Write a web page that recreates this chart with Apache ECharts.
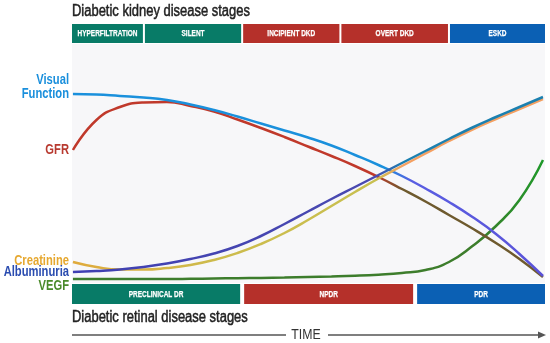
<!DOCTYPE html>
<html><head><meta charset="utf-8">
<script src="https://cdn.jsdelivr.net/npm/echarts@6/dist/echarts.min.js"></script>
<style>html,body{margin:0;padding:0;background:#fff}#c{width:550px;height:343px}</style>
</head><body><div id="c"></div>
<script>
// Time axis positions (0 = start, 100 = end)
const timePoints = [0,5,10,15,20,25,30,35,40,45,50,55,60,65,70,75,80,85,90,95,100];
// Relative levels (arbitrary units)
const visualFunction = [189,188.5,187,185.5,183,178.5,173,166.5,159.5,152.5,145.5,137.5,128,118,107,94.5,81,66,49,29,7];
const gfr            = [133,163,176,180.5,181,177,171.5,163.5,155,146,136.5,127,117,106,94,81.5,68,54.5,40,24,6];
const albuminuria    = [11,12,13.5,16,19.5,24,29.5,37,47,59,71.5,84,96,108,120,132,144,155.5,166,176,186];
const creatinine     = [21,16,13.5,13.5,15,18,23,30,39,50,63,77,91,104.5,117,129.5,142,153.5,164,174,184];
const vegf           = [4,4,4,4,4,4.2,4.5,4.8,5.1,5.5,6,6.5,7.2,8.3,10,13,21,37,57,83,123];

// Disease stages: [start, end]
const kidneyStages = ['HYPERFILTRATION','SILENT','INCIPIENT DKD','OVERT DKD','ESKD'];
const kidneySpans  = [[-0.2,15.1],[15.1,36.0],[36.0,56.9],[56.9,80.0],[80.0,100.43]];
const retinaStages = ['PRECLINICAL DR','NPDR','PDR'];
const retinaSpans  = [[-0.2,36.0],[36.0,72.8],[72.8,100.43]];

const TEAL='#087b67', RED='#b5302a', BLUE='#0b60b4';
const kidneyColors = [TEAL,TEAL,RED,RED,BLUE];
const retinaColors = [TEAL,RED,BLUE];
const FF = "'Liberation Sans',Arial,sans-serif";
const SX = 0.8;

const chart = echarts.init(document.getElementById('c'));
const pairs = arr => timePoints.map((x,i)=>[x,arr[i]]);
const grad = stops => new echarts.graphic.LinearGradient(0,0,1,0,stops.map(s=>({offset:s[0],color:s[1]})));

function bandSeries(names, spans, colors, gridIdx, gap){
  return {
    type:'custom', xAxisIndex:gridIdx, yAxisIndex:gridIdx, silent:true,
    data: spans.map((s,i)=>[s[0],s[1],i]),
    renderItem(params, api){
      const i = api.value(2), n = spans.length;
      const p0 = api.coord([api.value(0),0]);
      const p1 = api.coord([api.value(1),1]);
      const l = p0[0] + (i>0?gap/2:0);
      const r = p1[0] - (i<n-1?gap/2:0);
      return {type:'group', children:[
        {type:'rect', shape:{x:l,y:p1[1],width:r-l,height:p0[1]-p1[1]}, style:{fill:colors[i]}},
        {type:'text', x:(l+r)/2, y:(p0[1]+p1[1])/2+0.5, scaleX:0.72, style:{text:names[i], fill:'#fff', stroke:'#fff', lineWidth:0.25, font:'bold 9px '+FF, align:'center', verticalAlign:'middle'}}
      ]};
    }
  };
}

const lineBase = {type:'line', xAxisIndex:1, yAxisIndex:1, showSymbol:false, smooth:0.5, silent:true, z:5};

function label(text,x,y,color,font){
  return {type:'text',x:x,y:y,scaleX:SX,style:{text:text,font:font,fill:color,align:'right',verticalAlign:'middle'}};
}

chart.setOption({
  animation:false,
  grid:[
    {left:72,right:5,top:24,height:19},
    {left:72,right:5,top:44,height:239,show:true,backgroundColor:'#f7f7f9',borderWidth:0},
    {left:72,right:5,top:284,height:20}
  ],
  xAxis:[0,1,2].map(g=>({type:'value',gridIndex:g,min:-0.2,max:100.43,show:false})),
  yAxis:[
    {type:'value',gridIndex:0,min:0,max:1,show:false},
    {type:'value',gridIndex:1,min:0,max:239,show:false},
    {type:'value',gridIndex:2,min:0,max:1,show:false}
  ],
  series:[
    bandSeries(kidneyStages,kidneySpans,kidneyColors,0,2),
    bandSeries(retinaStages,retinaSpans,retinaColors,2,4),
    Object.assign({},lineBase,{name:'VEGF',data:pairs(vegf),lineStyle:{width:2.5,color:grad([[0,'#3d7d2c'],[0.85,'#3d7d2c'],[1,'#1e9a2a']])}}),
    Object.assign({},lineBase,{name:'GFR',data:pairs(gfr),lineStyle:{width:2.5,color:grad([[0,'#c0392b'],[0.64,'#c0392b'],[0.7,'#6e5a2e'],[1,'#6e5a2e']])}}),
    Object.assign({},lineBase,{name:'Visual Function',data:pairs(visualFunction),lineStyle:{width:2.5,color:grad([[0,'#1a90dc'],[0.66,'#1a90dc'],[0.72,'#5a5ee2'],[1,'#5a52d8']])}}),
    Object.assign({},lineBase,{name:'Creatinine',data:pairs(creatinine),lineStyle:{width:2.5,color:grad([[0,'#e0aa3c'],[0.3,'#cdbb4c'],[0.64,'#c8c050'],[0.7,'#f4a062'],[1,'#f4a062']])}}),
    Object.assign({},lineBase,{name:'Albuminuria',data:pairs(albuminuria),lineStyle:{width:2.5,color:grad([[0,'#3f3fb2'],[0.64,'#4a4ab0'],[0.7,'#1b80b0'],[1,'#1b80b0']])}})
  ],
  graphic:[
    {type:'text',x:72,y:12,scaleX:0.81,style:{text:'Diabetic kidney disease stages',font:'16px '+FF,fill:'#222',stroke:'#222',lineWidth:0.5,align:'left',verticalAlign:'middle'}},
    {type:'text',x:72,y:318,scaleX:0.81,style:{text:'Diabetic retinal disease stages',font:'16px '+FF,fill:'#222',stroke:'#222',lineWidth:0.5,align:'left',verticalAlign:'middle'}},
    label('Visual',69,80,'#1a8fdc','bold 14px '+FF),
    label('Function',69,94,'#1a8fdc','bold 14px '+FF),
    label('GFR',69,150,'#b83a30','bold 14px '+FF),
    label('Creatinine',69,261,'#e6a830','bold 14px '+FF),
    label('Albuminuria',69,272,'#2a4cb0','bold 14px '+FF),
    label('VEGF',69,286,'#4a8a2a','bold 14px '+FF),
    {type:'line',shape:{x1:72,y1:335,x2:286,y2:335},style:{stroke:'#555',lineWidth:1.5}},
    {type:'text',x:306,y:335,scaleX:0.82,style:{text:'TIME',font:'15px '+FF,fill:'#333',align:'center',verticalAlign:'middle'}},
    {type:'line',shape:{x1:328,y1:335,x2:540,y2:335},style:{stroke:'#555',lineWidth:1.5}},
    {type:'polygon',shape:{points:[[546,335],[538,331.5],[538,338.5]]},style:{fill:'#555'}}
  ]
});
</script></body></html>
